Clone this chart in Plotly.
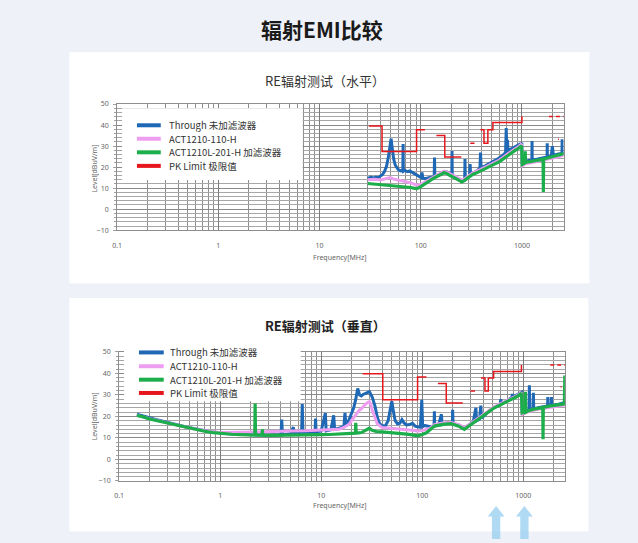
import plotly.graph_objects as go

W, H = 638, 543

# ---------------- data ----------------
# Horizontal polarisation (upper chart)
H_THR_F = [30, 32, 34, 36, 38, 40, 42, 44, 46, 48, 50, 51, 52, 54, 56, 58, 60, 63, 66, 66.6, 67, 67.4,
           70, 74, 78, 82, 86, 90, 94, 98, 101, 103, 105, 110, 120, 130, 136, 137, 138, 150, 165, 180,
           200, 203, 204, 205, 220, 240, 260, 272, 274, 276, 290, 305, 308, 311, 330, 360, 385, 390, 395,
           410, 430, 460, 500, 550, 600, 650, 690, 700, 710, 720, 730, 760, 820, 900, 960, 998,
           1005, 1100, 1200, 1255, 1260, 1265, 1400, 1550, 1700, 1775, 1780, 1785, 1850, 1950, 2000,
           2050, 2200, 2400, 2490, 2500, 2510, 2600]
H_THR_V = [14.5, 15.2, 14.8, 15.3, 15.0, 15.8, 16.5, 18.0, 20.5, 25.0, 31.0, 33.5, 30.0, 24.0, 21.0,
           19.5, 18.8, 18.2, 18.5, 18.0, 31.0, 18.0, 18.4, 17.8, 18.2, 17.5, 17.0, 16.5, 16.0, 15.3,
           15.0, 17.5, 14.8, 14.5, 14.8, 15.2, 15.5, 24.6, 15.5, 16.2, 17.5, 17.8, 16.5, 16.3, 27.7,
           16.2, 15.2, 14.2, 13.8, 14.0, 23.8, 14.2, 15.0, 15.8, 21.5, 16.0, 17.2, 18.2, 19.5, 26.9,
           20.5, 20.0, 20.5, 21.2, 22.0, 23.3, 24.5, 25.6, 27.0, 38.6, 27.5, 33.0, 27.8, 28.3, 29.0,
           30.0, 31.0, 31.0, 21.5, 22.8, 23.2, 23.5, 32.4, 23.5, 23.8, 24.2, 24.6, 24.8, 31.3, 24.8,
           25.0, 25.3, 30.0, 25.5, 26.0, 26.4, 26.6, 33.2, 26.6, 27.0]

H_110_F = [30, 35, 40, 45, 50, 55, 60, 65, 70, 75, 80, 85, 91, 96, 100, 105, 110, 120, 130, 140, 150,
           160, 170, 180, 195, 210, 230, 255, 270, 290, 330, 370, 400, 450, 500, 560, 600, 650, 700,
           750, 800, 850, 900, 960, 995, 1005, 1100, 1200, 1400, 1600, 1800, 2000, 2300, 2600]
H_110_V = [14.0, 14.2, 13.9, 14.3, 15.0, 14.2, 13.8, 13.6, 13.3, 12.9, 12.5, 12.0, 11.4, 11.5, 11.8,
           12.3, 12.9, 13.9, 15.0, 15.9, 16.5, 17.3, 18.1, 17.7, 16.8, 16.0, 15.0, 13.8, 14.4, 15.6,
           17.4, 18.4, 19.2, 20.3, 21.3, 22.5, 23.4, 24.6, 25.8, 26.8, 27.8, 28.6, 29.3, 30.4, 31.0,
           20.6, 21.7, 22.0, 22.7, 23.1, 23.7, 24.1, 24.9, 25.7]

H_201_F = [30, 35, 40, 45, 50, 55, 60, 65, 70, 75, 80, 85, 91, 96, 100, 105, 110, 120, 130, 140, 150,
           160, 170, 180, 195, 210, 230, 255, 270, 290, 330, 370, 400, 450, 500, 560, 600, 650, 700,
           750, 800, 850, 900, 960, 995, 1005, 1050, 1075, 1080, 1085, 1100, 1200, 1300, 1400, 1500,
           1620, 1630, 1640, 1750, 1900, 2100, 2300, 2450, 2600]
H_201_V = [12.2, 11.9, 11.7, 11.6, 11.4, 11.3, 11.1, 11.0, 10.8, 10.5, 10.3, 10.0, 9.8, 10.2, 10.8,
           11.4, 12.1, 13.2, 14.3, 15.2, 15.8, 16.6, 17.4, 17.0, 16.0, 15.3, 14.2, 13.0, 13.6, 14.8,
           16.6, 17.6, 18.4, 19.5, 20.5, 21.7, 22.6, 23.8, 25.0, 26.0, 27.0, 27.8, 28.5, 29.6, 30.2,
           21.2, 21.8, 22.0, 27.5, 22.0, 22.3, 22.6, 23.0, 23.3, 23.6, 23.8, 8.2, 23.8, 24.2, 24.6,
           25.1, 25.6, 26.0, 26.4]

H_LIM_F = [30.7, 41.5, 41.5, 91, 91, 110, None, 143, 173, 173, 252, None, 309, 340, None,
           390, 422, 422, 461, 461, 517, 517, 1000, 1000, None, 2270, 2320]
H_LIM_V = [39.5, 39.5, 27.4, 27.4, 37.8, 37.8, None, 35.0, 35.0, 24.8, 24.8, None, 31.3, 31.3, None,
           37.8, 37.8, 31.3, 31.3, 37.8, 37.8, 41.2, 41.2, 44.1, None, 33.2, 33.2]
H_LIM2_F = [1850, 2600]
H_LIM2_V = [44.1, 44.1]

# Vertical polarisation (lower chart)
V_THR_F = [0.15, 0.17, 0.2, 0.23, 0.27, 0.3, 0.35, 0.4, 0.45, 0.5, 0.6, 0.7, 0.8, 0.9, 1.0, 1.2, 1.5,
           2.0, 2.5, 3.0, 4.0, 4.07, 4.14, 5.0, 5.3, 5.4, 6.4, 6.5, 6.6, 7.5, 8.7, 8.8, 8.9, 10, 11,
           11.2, 12.5, 13.3, 13.6, 15, 16.8, 17.2, 17.6, 18.5, 20, 21, 22, 23, 24, 25, 26, 28, 30, 32,
           34, 36, 38, 40, 43, 46, 48, 50, 52, 54, 57, 60, 63, 66, 70, 75, 80, 85, 90, 96, 99, 101,
           105, 110, 120, 131, 132, 133, 145, 155, 157, 175, 199, 200, 202, 230, 261, 290, 320, 340,
           345, 370, 380, 386, 420, 460, 520, 590, 600, 610, 700, 775, 780, 785, 850, 920, 960, 970,
           1000, 1140, 1150, 1160, 1250, 1260, 1270, 1400, 1600, 1740, 1750, 1760, 1890, 1900, 1910,
           2200, 2500, 2600]
V_THR_V = [21.0, 20.2, 19.2, 18.6, 17.8, 17.2, 16.3, 15.8, 15.2, 14.8, 14.0, 13.4, 12.9, 12.6, 12.3,
           12.0, 11.7, 11.5, 11.4, 11.3, 11.5, 18.5, 11.5, 12.0, 15.0, 12.0, 12.3, 25.7, 12.3, 12.6,
           12.8, 19.0, 12.8, 13.2, 21.6, 13.3, 13.8, 20.5, 14.0, 14.5, 15.5, 21.6, 16.0, 17.5, 21.0,
           24.0, 28.0, 33.0, 30.0, 29.5, 30.2, 31.0, 31.5, 29.0, 25.0, 19.5, 16.5, 15.8, 15.5, 18.0,
           23.0, 27.0, 22.0, 18.0, 16.5, 16.8, 18.5, 17.0, 16.0, 16.2, 16.8, 15.5, 15.2, 15.0, 27.7,
           15.2, 15.8, 15.5, 15.2, 15.5, 22.4, 15.6, 16.0, 21.0, 16.2, 17.0, 16.8, 23.1, 16.6, 16.0,
           14.6, 16.0, 17.5, 24.0, 18.0, 18.8, 25.0, 19.2, 21.0, 22.5, 24.2, 25.5, 28.0, 25.8, 27.5,
           29.0, 30.5, 29.0, 29.8, 30.5, 31.2, 22.5, 22.5, 23.0, 34.5, 23.0, 23.5, 31.0, 23.5, 24.0,
           24.4, 24.8, 29.0, 24.8, 25.1, 29.0, 25.1, 25.6, 26.1, 26.5]

V_110_F = [0.15, 0.2, 0.3, 0.4, 0.5, 0.7, 1.0, 1.5, 2, 3, 5, 7, 10, 13, 15, 17, 19, 20, 21, 22, 23, 24,
           25, 26, 27, 28, 30, 31, 32, 33, 35, 36, 40, 50, 60, 70, 80, 90, 100, 120, 132, 160, 193,
           230, 261, 300, 351, 420, 513, 600, 750, 850, 960, 975, 1100, 1250, 1500, 1800, 2200, 2600]
V_110_V = [20.6, 18.9, 17.0, 15.5, 14.6, 13.3, 12.5, 12.6, 12.8, 13.0, 13.2, 13.3, 13.5, 13.8, 14.0,
           15.0, 16.5, 18.0, 19.5, 21.0, 22.0, 23.0, 23.5, 24.5, 25.5, 26.0, 26.9, 25.5, 23.0, 21.0,
           18.0, 16.5, 14.8, 14.5, 14.3, 14.0, 13.6, 13.2, 13.4, 14.5, 16.2, 17.0, 17.2, 16.2, 14.8,
           16.6, 19.0, 21.5, 24.4, 26.0, 28.2, 29.5, 31.1, 21.0, 22.0, 22.8, 23.5, 24.2, 24.8, 25.3]

V_201_F = [0.15, 0.17, 0.2, 0.25, 0.3, 0.35, 0.4, 0.5, 0.6, 0.7, 0.85, 1, 1.3, 1.6, 2, 2.2, 2.22, 2.24,
           2.6, 2.62, 2.64, 3, 4, 5, 6.5, 8, 10, 12, 15, 18, 20, 21.8, 22, 22.2, 25, 28, 30, 32, 35, 40,
           50, 60, 70, 80, 90, 100, 110, 132, 160, 193, 230, 261, 300, 351, 420, 513, 600, 750, 850,
           960, 975, 1040, 1050, 1060, 1100, 1250, 1400, 1560, 1570, 1580, 1800, 2000, 2300, 2550,
           2580, 2600]
V_201_V = [20.4, 19.9, 18.8, 17.8, 16.8, 16.1, 15.5, 14.5, 13.8, 13.1, 12.5, 12.1, 11.7, 11.5, 11.3,
           11.3, 26.0, 11.3, 11.3, 14.0, 11.3, 11.2, 11.2, 11.2, 11.3, 11.3, 11.5, 11.6, 11.8, 11.9,
           12.0, 12.2, 17.0, 12.2, 12.5, 13.5, 14.5, 13.5, 13.0, 12.8, 12.5, 12.2, 11.8, 11.4, 11.0,
           11.6, 12.4, 15.5, 16.3, 16.6, 15.5, 14.0, 16.0, 18.5, 21.0, 23.9, 25.5, 27.7, 29.0, 30.7,
           21.6, 22.0, 31.5, 22.0, 22.4, 23.3, 23.8, 24.2, 9.4, 24.2, 24.8, 25.2, 25.5, 25.8, 39.0, 26.0]

V_LIM_F = [25.8, 40.7, 40.7, 90, 90, 110, None, 143, 173, 173, 252, None, 300, 333, None,
           382, 418, 418, 451, 451, 509, 509, 960, 960, None, 2340, 2400]
V_LIM_V = [39.8, 39.8, 27.7, 27.7, 38.3, 38.3, None, 35.3, 35.3, 26.2, 26.2, None, 31.8, 31.8, None,
           37.9, 37.9, 31.8, 31.8, 37.9, 37.9, 40.9, 40.9, 43.9, None, 33.8, 33.8]
V_LIM2_F = [1850, 2600]
V_LIM2_V = [43.9, 43.9]

SERIES_NAMES = ['Through 未加滤波器', 'ACT1210-110-H', 'ACT1210L-201-H 加滤波器', 'PK Limit 极限值']
X_TICKS = [0.1, 1, 10, 100, 1000]
X_TICK_TEXT = ['0.1', '1', '10', '100', '1000']

# ---------------- styling ----------------
C_BLUE = '#1f68b5'
C_PINK = '#ee9ef0'
C_GREEN = '#1cae4a'
C_RED = '#e6161c'
FONT = 'Noto Sans CJK SC'


def X(p):
    return p / W


def Y(p):
    return 1 - p / H


fig = go.Figure()


def add_chart(xa, ya, thr, a110, a201, lim, lim2):
    for (f, v), col, wd in [(thr, C_BLUE, 3.0), (a110, C_PINK, 3.0), (a201, C_GREEN, 3.2)]:
        fig.add_trace(go.Scatter(x=f, y=v, mode='lines', line=dict(color=col, width=wd),
                                 xaxis=xa, yaxis=ya, showlegend=False, hoverinfo='skip'))
    fig.add_trace(go.Scatter(x=lim[0], y=lim[1], mode='lines', line=dict(color=C_RED, width=1.5),
                             xaxis=xa, yaxis=ya, showlegend=False, hoverinfo='skip'))
    fig.add_trace(go.Scatter(x=lim2[0], y=lim2[1], mode='lines',
                             line=dict(color=C_RED, width=1.5, dash='4px,3px'),
                             xaxis=xa, yaxis=ya, showlegend=False, hoverinfo='skip'))


add_chart('x', 'y', (H_THR_F, H_THR_V), (H_110_F, H_110_V), (H_201_F, H_201_V),
          (H_LIM_F, H_LIM_V), (H_LIM2_F, H_LIM2_V))
add_chart('x2', 'y2', (V_THR_F, V_THR_V), (V_110_F, V_110_V), (V_201_F, V_201_V),
          (V_LIM_F, V_LIM_V), (V_LIM2_F, V_LIM2_V))

minor_x = [m * d for d in X_TICKS for m in range(2, 10) if m * d < 2600]


def xaxis(dom, anchor):
    return dict(type='log', range=[-1, 3.412], domain=dom, anchor=anchor,
                tickmode='array', tickvals=X_TICKS, ticktext=X_TICK_TEXT,
                showgrid=True, gridcolor='#7c7c7c', gridwidth=1,
                minor=dict(tickmode='array', tickvals=minor_x, showgrid=True,
                           gridcolor='#8e8e8e', gridwidth=1, ticks=''),
                showline=True, linecolor='#8e8e8e', mirror=True, ticks='',
                tickfont=dict(size=7, color='#666666', family='Noto Sans'),
                ticklabelstandoff=8, zeroline=False, fixedrange=True)


def yaxis(dom, anchor):
    return dict(range=[-10, 50], domain=dom, anchor=anchor, tick0=0, dtick=10,
                showgrid=True, gridcolor='#8a8a8a', gridwidth=1,
                minor=dict(dtick=2, showgrid=True, gridcolor='#a6a6a6', gridwidth=1,
                           ticks='outside', ticklen=2, tickcolor='#a0a0a0'),
                ticks='outside', ticklen=3, tickcolor='#a0a0a0',
                showline=True, linecolor='#8e8e8e', mirror=True, zeroline=False,
                tickfont=dict(size=7, color='#666666', family='Noto Sans'),
                ticklabelstandoff=3, fixedrange=True)


shapes = []
annotations = []


def label(text, x, y, size, color, family=FONT, **kw):
    d = dict(text=text, x=X(x), y=Y(y), xref='paper', yref='paper', showarrow=False,
             xanchor='center', yanchor='middle', font=dict(size=size, color=color, family=family))
    d.update(kw)
    annotations.append(d)


# panels
shapes.append(dict(type='rect', xref='paper', yref='paper', x0=X(65), x1=X(589), y0=Y(283), y1=Y(48),
                   fillcolor='white', line=dict(width=0), layer='below'))
shapes.append(dict(type='rect', xref='paper', yref='paper', x0=X(65), x1=X(588), y0=Y(535), y1=Y(298),
                   fillcolor='white', line=dict(width=0), layer='below'))

# titles
label('<b>辐射EMI比较</b>', 319, 24, 21, '#1a1a1a')
label('RE辐射测试（水平）', 323, 77, 13, '#333333')
label('<b>RE辐射测试（垂直）</b>', 323, 326, 13, '#222222')

# axis titles
for yc, fy in [(166, 257), (418, 509)]:
    label('Level[dBuV/m]', 90, yc, 7, '#666666', family='Noto Sans', textangle=-90)
    label('Frequency[MHz]', 338, fy, 7, '#666666', family='Noto Sans')

# legends (boxes with sample lines and labels)
legend_colors = [C_BLUE, C_PINK, C_GREEN, C_RED]
for box, rows, lx0, lx1, tx in [((118, 300, 105, 178), [122.3, 136, 149.8, 163.6], 133, 157, 163),
                                 ((120, 298, 345, 403), [353.3, 367.3, 381, 394.5], 135, 160, 164)]:
    shapes.append(dict(type='rect', xref='paper', yref='paper', x0=X(box[0]), x1=X(box[1]),
                       y0=Y(box[3]), y1=Y(box[2]), fillcolor='white', line=dict(width=0), layer='above'))
    for r, col, name in zip(rows, legend_colors, SERIES_NAMES):
        shapes.append(dict(type='line', xref='paper', yref='paper', x0=X(lx0), x1=X(lx1),
                           y0=Y(r), y1=Y(r), line=dict(color=col, width=4), layer='above'))
        label(name, tx, r, 9.5, '#333333', xanchor='left')

# decorative arrows at the bottom
for cx in [495, 523.5]:
    pts = [(cx, 509.5), (cx - 8.5, 520), (cx - 4.2, 520), (cx - 4.2, 543), (cx + 4.2, 543),
           (cx + 4.2, 520), (cx + 8.5, 520)]
    path = 'M ' + ' L '.join(f'{X(a):.5f},{Y(b):.5f}' for a, b in pts) + ' Z'
    shapes.append(dict(type='path', xref='paper', yref='paper', path=path,
                       fillcolor='rgba(150,205,240,0.75)', line=dict(width=0), layer='above'))

fig.update_layout(
    width=W, height=H, margin=dict(l=0, r=0, t=0, b=0),
    paper_bgcolor='#eef2f8', plot_bgcolor='white', showlegend=False,
    xaxis=xaxis([X(113), X(563)], 'y'),
    yaxis=yaxis([Y(229), Y(100.7)], 'x'),
    xaxis2=xaxis([X(115), X(564.3)], 'y2'),
    yaxis2=yaxis([Y(484), Y(352.7)], 'x2'),
    shapes=shapes, annotations=annotations,
)

fig.write_html('out.html')
